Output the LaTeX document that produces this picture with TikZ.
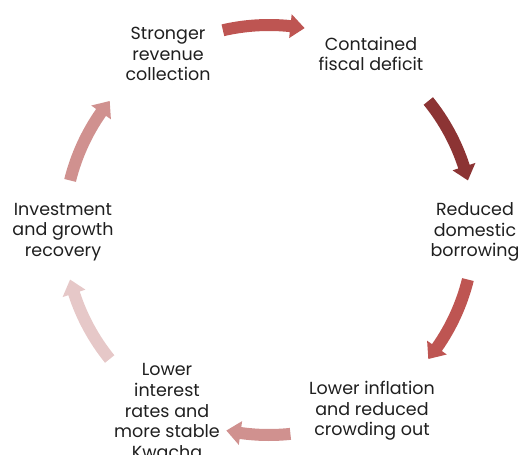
\documentclass[tikz,border=0pt]{standalone}
\usepackage{fontspec}
\setmainfont{Poppins}
\usepackage{tikz}
\definecolor{arrowdark}{RGB}{140,52,52}
\definecolor{arrowred}{RGB}{190,85,82}
\definecolor{arrowpink}{RGB}{208,145,143}
\definecolor{arrowpale}{RGB}{230,200,200}
\tikzset{cyclebox/.style={align=center, inner sep=0pt, text=black!88,
font=\fontsize{17.5}{20.6}\selectfont},
%body is 12pt thick, head 24pt wide
cyclearrowbody/.style={draw=none}}
% #1 start angle, #2 tip angle, #3 colour (clockwise)
\newcommand{\cyclearrow}[3]{%
  \pgfmathsetmacro{\headbase}{#2+4}
  \fill[cyclearrowbody,#3] ([shift={(#1:211)}]cyc) arc[start angle=#1, end angle=\headbase, radius=211]
    -- ([shift={(\headbase:217)}]cyc) -- ([shift={(#2:205)}]cyc)
    -- ([shift={(\headbase:193)}]cyc) -- ([shift={(\headbase:199)}]cyc)
    arc[start angle=\headbase, end angle=#1, radius=199] -- cycle;}

\begin{document}
\begin{tikzpicture}[x=1pt,y=1pt]
		\useasboundingbox (0,0) rectangle (520,-455);
		\coordinate (cyc) at (269,-230);

		\node[cyclebox] (revenue) at (168,-54) {Stronger\\revenue\\collection};
		\node[cyclebox] (deficit) at (371,-54) {Contained\\fiscal deficit};
		\node[cyclebox] (borrowing) at (475,-232) {Reduced\\domestic\\borrowing};
		\node[cyclebox] (inflation) at (372,-411) {Lower inflation\\and reduced\\crowding out};
		\node[cyclebox] (rates) at (167,-411) {Lower\\interest\\rates and\\more stable\\Kwacha};
		\node[cyclebox] (growth) at (63,-232) {Investment\\and growth\\recovery};

		\cyclearrow{103}{80}{arrowred}
		\cyclearrow{39}{14}{arrowdark}
		\cyclearrow{-14}{-39}{arrowred}
		\cyclearrow{276}{258}{arrowpink}
		\cyclearrow{219}{194}{arrowpale}
		\cyclearrow{166}{141}{arrowpink}
	\end{tikzpicture}
\end{document}
